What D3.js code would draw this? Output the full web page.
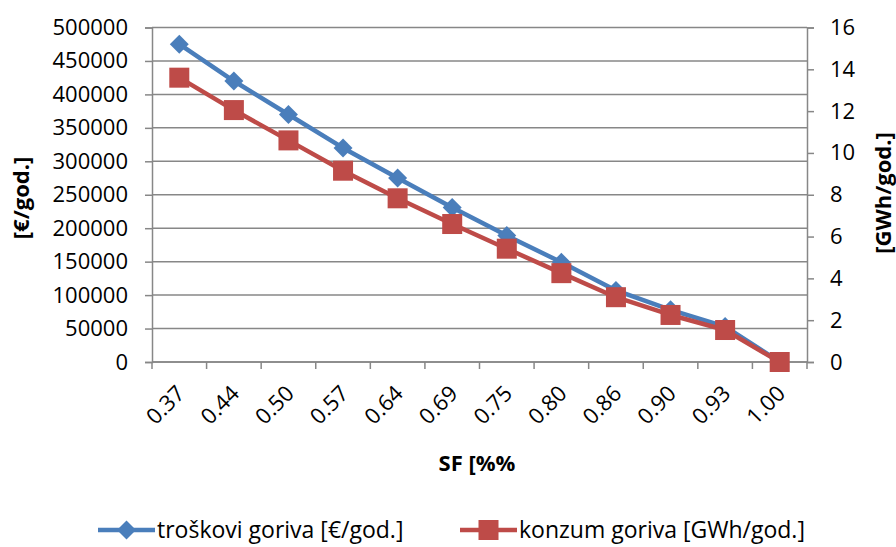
<!DOCTYPE html>
<html><head><meta charset="utf-8">
<script src="https://cdn.jsdelivr.net/npm/d3@7"></script>
<style>
html,body{margin:0;padding:0;background:#fff;}
svg{display:block;}
text{font-family:"Open Sans",sans-serif;fill:#000;}
</style></head>
<body><svg id="c" width="896" height="547"></svg>
<script>
const categories = ["0.37","0.44","0.50","0.57","0.64","0.69","0.75","0.80","0.86","0.90","0.93","1.00"];
const troskovi = [475000,420000,370000,320000,275000,231000,189000,149000,107000,78000,53000,0];
const konzum = [13.6,12.05,10.6,9.15,7.83,6.6,5.42,4.25,3.1,2.25,1.53,0];
const leftTicks = [0,50000,100000,150000,200000,250000,300000,350000,400000,450000,500000];
const rightTicks = [0,2,4,6,8,10,12,14,16];
const seriesNames = ["troškovi goriva [€/god.]","konzum goriva [GWh/god.]"];
const colors = ["#4A7EBB","#BE4B48"];

const svg = d3.select("#c");
const L = 152, R = 807, T = 27.5, B = 362;
const x = d3.scaleBand().domain(categories).range([L, R]).padding(0);
const yL = d3.scaleLinear().domain([0, 500000]).range([B, T]);
const yR = d3.scaleLinear().domain([0, 16]).range([B, T]);
const grid = "#878787";
const fs = 22;

// gridlines
svg.append("g").selectAll("line").data(leftTicks).join("line")
  .attr("x1", L).attr("x2", R).attr("y1", d => yL(d)).attr("y2", d => yL(d))
  .attr("stroke", grid).attr("stroke-width", 1.5);

// left axis
const gl = svg.append("g").attr("transform", `translate(${L},0)`)
  .call(d3.axisLeft(yL).tickValues(leftTicks).tickFormat(d3.format("d")).tickSize(7).tickPadding(17));
gl.select(".domain").attr("stroke", grid).attr("stroke-width", 1.5);
gl.selectAll(".tick line").attr("stroke", grid).attr("stroke-width", 1.5);
gl.selectAll("text").attr("font-size", fs).attr("font-family", "Open Sans").attr("fill", "#000");

// right axis
const gr = svg.append("g").attr("transform", `translate(${R},0)`)
  .call(d3.axisRight(yR).tickValues(rightTicks).tickFormat(d3.format("d")).tickSize(7).tickPadding(16));
gr.select(".domain").attr("stroke", grid).attr("stroke-width", 1.5);
gr.selectAll(".tick line").attr("stroke", grid).attr("stroke-width", 1.5);
gr.selectAll("text").attr("font-size", fs).attr("font-family", "Open Sans").attr("fill", "#000");

// bottom axis
svg.append("line").attr("x1", L).attr("x2", R).attr("y1", B).attr("y2", B).attr("stroke", grid).attr("stroke-width", 1.5);
const bounds = categories.map(c => x(c)).concat([R]);
svg.append("g").selectAll("line").data(bounds).join("line")
  .attr("x1", d => d).attr("x2", d => d).attr("y1", B).attr("y2", B + 7)
  .attr("stroke", grid).attr("stroke-width", 1.5);
svg.append("g").selectAll("text").data(categories).join("text")
  .attr("transform", d => `translate(${x(d) + x.bandwidth()/2 - 4},${B + 22}) rotate(-45)`)
  .attr("text-anchor", "end").attr("dy", "0.7em").attr("font-size", fs).text(d => d);

// axis titles
svg.append("text").attr("transform", `translate(29,198) rotate(-90)`).attr("text-anchor", "middle")
  .attr("font-size", fs).attr("font-weight", "bold").text("[€/god.]");
svg.append("text").attr("transform", `translate(891,193) rotate(-90)`).attr("text-anchor", "middle")
  .attr("font-size", fs).attr("font-weight", "bold").text("[GWh/god.]");
svg.append("text").attr("x", 477).attr("y", 471).attr("text-anchor", "middle")
  .attr("font-size", fs).attr("font-weight", "bold").text("SF [%%");

const cx = d => x(d) + x.bandwidth()/2;
const diamond = d3.symbol().type(d3.symbolSquare).size(180);
// series 1
svg.append("path").datum(troskovi)
  .attr("d", d3.line().x((d,i) => cx(categories[i])).y(d => yL(d)))
  .attr("fill", "none").attr("stroke", colors[0]).attr("stroke-width", 4.5).attr("stroke-linejoin", "round");
svg.append("g").selectAll("path").data(troskovi).join("path")
  .attr("transform", (d,i) => `translate(${cx(categories[i])},${yL(d)}) rotate(45)`)
  .attr("d", diamond).attr("fill", colors[0]);
// series 2
svg.append("path").datum(konzum)
  .attr("d", d3.line().x((d,i) => cx(categories[i])).y(d => yR(d)))
  .attr("fill", "none").attr("stroke", colors[1]).attr("stroke-width", 4.5).attr("stroke-linejoin", "round");
svg.append("g").selectAll("rect").data(konzum).join("rect")
  .attr("x", (d,i) => cx(categories[i]) - 10).attr("y", d => yR(d) - 10)
  .attr("width", 20).attr("height", 20).attr("fill", colors[1]);

// legend
const ly = 530;
const leg = [{x0: 98, tx: 157}, {x0: 460, tx: 519}];
leg.forEach((p, i) => {
  const g = svg.append("g");
  g.append("line").attr("x1", p.x0).attr("x2", p.tx - 2).attr("y1", ly).attr("y2", ly)
    .attr("stroke", colors[i]).attr("stroke-width", 4.5);
  const mx = (p.x0 + p.tx - 2) / 2;
  if (i === 0) g.append("path").attr("transform", `translate(${mx},${ly}) rotate(45)`).attr("d", diamond).attr("fill", colors[0]);
  else g.append("rect").attr("x", mx - 10).attr("y", ly - 10).attr("width", 20).attr("height", 20).attr("fill", colors[1]);
  g.append("text").attr("x", p.tx).attr("y", ly).attr("dy", "0.35em").attr("font-size", 23).text(seriesNames[i]);
});
</script></body></html>
